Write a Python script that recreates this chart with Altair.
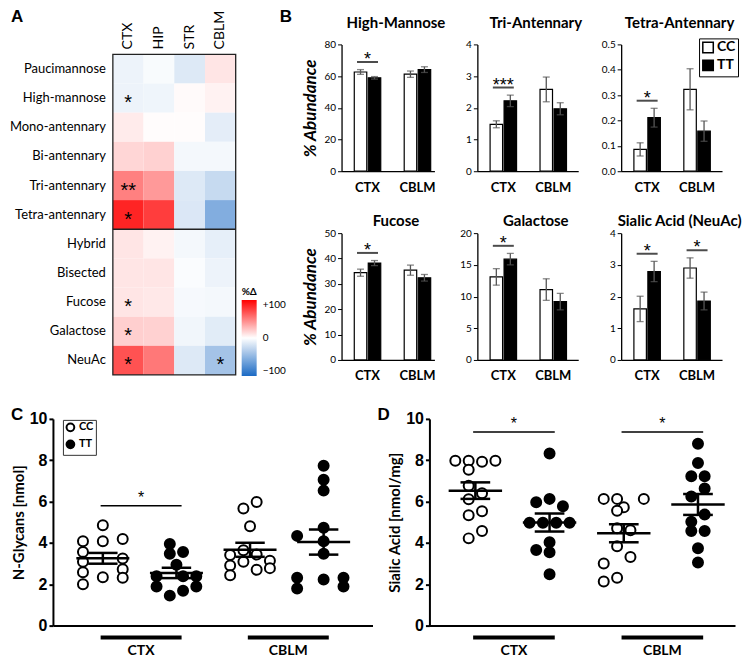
import altair as alt
import pandas as pd

FONT = "Lato"
NUM = "Liberation Sans"
BLUE = "#1b6ac4"
RED = "#ff0000"

# ---------------- Panel A : heat map (%change TT vs CC) ----------------
hm_rows = ["Paucimannose", "High-mannose", "Mono-antennary", "Bi-antennary",
           "Tri-antennary", "Tetra-antennary", "Hybrid", "Bisected",
           "Fucose", "Galactose", "NeuAc"]
hm_cols = ["CTX", "HIP", "STR", "CBLM"]
hm_ctx = [-8, -8, 8, 16, 50, 86, 10, 10, 10, 19, 68]
hm_hip = [-3, -7, 1, 18, 40, 76, 5, 10, 9, 18, 53]
hm_str = [-15, 2, 1, -5, -15, -16, -5, -2, -4, -6, -15]
hm_cblm = [10, 5, -12, -5, -25, -55, -11, -8, -5, -13, -40]
hm_star_ctx = ["", "*", "", "", "**", "*", "", "", "*", "*", "*"]
hm_star_cblm = ["", "", "", "", "", "", "", "", "", "", "*"]
hm_split = "Hybrid"

# ---------------- Panel B : % abundance bars ----------------
b_titles = ["High-Mannose", "Tri-Antennary", "Tetra-Antennary",
            "Fucose", "Galactose", "Sialic Acid (NeuAc)"]
b_regions = ["CTX", "CBLM"]
b_genos = ["CC", "TT"]
b_cc_mean = [[62.6, 61.2], [1.48, 2.58], [0.086, 0.323], [34.4, 35.4], [13.1, 11.1], [1.61, 2.90]]
b_cc_sem = [[1.5, 2.0], [0.11, 0.39], [0.026, 0.081], [1.4, 2.0], [1.3, 1.7], [0.40, 0.32]]
b_tt_mean = [[58.9, 64.1], [2.22, 1.97], [0.211, 0.158], [38.2, 32.4], [15.9, 9.2], [2.79, 1.86]]
b_tt_sem = [[0.8, 1.8], [0.18, 0.19], [0.037, 0.040], [1.0, 1.3], [0.9, 1.3], [0.32, 0.28]]
b_sig = [["*", ""], ["***", ""], ["*", ""], ["*", ""], ["*", ""], ["*", "*"]]
b_ymax = [80, 4, 0.5, 50, 20, 4]
b_ystep = [20, 1, 0.1, 10, 5, 1]
b_fmt = ["d", "d", ".1f", "d", "d", "d"]

# ---------------- Panel C : N-glycans [nmol] ----------------
ng_ctx_cc = [4.08, 3.56, 3.09, 2.58, 2.00, 4.85, 4.08, 2.34, 4.19, 3.25, 2.73, 2.31]
ng_ctx_cc_slot = [-3, -3, -3, -3, -3, 0, 0, 0, 3, 3, 3, 3]
ng_ctx_tt = [3.95, 3.48, 3.56, 2.94, 2.39, 2.39, 2.39, 1.89, 1.89, 1.69, 1.45]
ng_ctx_tt_slot = [-1, -1, 1, 0, -3, 1, 3, -3, 3, 1, -1]
ng_cblm_cc = [3.41, 2.91, 2.44, 5.67, 5.98, 4.81, 3.64, 3.44, 3.09, 2.70, 3.14, 2.78]
ng_cblm_cc_slot = [-3, -3, -3, -1, 1, 0, -1, 1, -1, 1, 3, 3]
ng_cblm_tt = [7.73, 7.06, 6.53, 4.73, 4.08, 3.48, 4.34, 2.31, 1.80, 2.23, 2.31, 1.89]
ng_cblm_tt_slot = [0, 0, 0, 0, 0, 0, -4, -4, -4, 0, 3, 3]
ng_sig = ["*", ""]
ng_sig_y = [5.8, None]

# ---------------- Panel D : sialic acid [nmol/mg] ----------------
sa_ctx_cc = [7.98, 7.98, 7.93, 7.98, 7.54, 6.76, 6.40, 6.11, 5.53, 5.34, 4.58, 4.22]
sa_ctx_cc_slot = [-3, -1, 1, 3, -1, -1, 1, -1, 1, -1, 1, -1]
sa_ctx_tt = [8.33, 6.13, 5.97, 5.77, 4.98, 4.98, 4.98, 4.98, 4.03, 3.66, 3.55, 2.48]
sa_ctx_tt_slot = [0, 0, -2, 2, -3, -1, 1, 3, 0, -2, 0, 0]
sa_cblm_cc = [6.13, 6.13, 6.13, 5.72, 5.56, 4.71, 4.61, 3.84, 3.32, 3.00, 2.32, 2.13]
sa_cblm_cc_slot = [-3, -1, 3, 0, -1, -1, 1, -1, 1, -3, -1, -3]
sa_cblm_tt = [8.80, 7.87, 7.22, 7.22, 6.63, 6.24, 5.37, 5.02, 4.58, 4.58, 3.74, 3.05]
sa_cblm_tt_slot = [0, 0, -1, 1, 1, -1, 1, -1, -1, 1, 0, 0]
sa_sig = ["*", "*"]
sa_sig_y = [9.37, 9.37]

panel_letters = ["A", "B", "C", "D"]
SLOT = 0.09


def letter(t, x, y):
    return alt.Chart(pd.DataFrame({"t": [t]})).mark_text(
        align="left", baseline="top", fontSize=17, fontWeight="bold", font=NUM, color="black"
    ).encode(text="t:N", x=alt.value(x), y=alt.value(y))


def frame(x0, x1, y0, y1):
    # invisible box that fixes the extent of a panel for the concat layout
    return alt.Chart(pd.DataFrame({"f": [0]})).mark_rect(opacity=0).encode(
        x=alt.value(x0), x2=alt.value(x1), y=alt.value(y0), y2=alt.value(y1))


# ---------------- A ----------------
def heat_panel():
    cols_vals = [hm_ctx, hm_hip, hm_str, hm_cblm]
    stars = {0: hm_star_ctx, 3: hm_star_cblm}
    recs = []
    for ci, vals in enumerate(cols_vals):
        for ri, v in enumerate(vals):
            recs.append({"ci": ci, "ri": ri, "pct": v,
                         "star": stars.get(ci, [""] * len(hm_rows))[ri]})
    df = pd.DataFrame(recs)
    xs = alt.Scale(domain=[-60 / 30.75, len(hm_cols)], nice=False, zero=False)
    ys = alt.Scale(domain=[-10 / 29.18, len(hm_rows)], nice=False, zero=False, reverse=True)
    base = alt.Chart(df).transform_calculate(
        ci1="datum.ci + 1", ri1="datum.ri + 1", cx="datum.ci + 0.5", ry="datum.ri + 0.5")
    cells = base.mark_rect().encode(
        x=alt.X("ci:Q", scale=xs, axis=None), x2="ci1:Q",
        y=alt.Y("ri:Q", scale=ys, axis=None), y2="ri1:Q",
        fill=alt.Fill("pct:Q", scale=alt.Scale(domain=[-100, 0, 100],
                                               range=[BLUE, "#ffffff", RED], interpolate="rgb"),
                      legend=alt.Legend(
                          orient="none", legendX=189, legendY=243, title="%Δ", titleFontSize=10,
                          titleFont=FONT, titleFontWeight="bold", titlePadding=3,
                          titleColor="black", gradientLength=76, gradientThickness=15,
                          values=[-100, 0, 100], direction="vertical",
                          labelExpr="datum.value > 0 ? '+' + datum.label : datum.label",
                          labelFontSize=10, labelFont=FONT, labelColor="black", labelOffset=6,
                          padding=0, gradientStrokeWidth=0)))
    starl = base.transform_filter("datum.star != ''").mark_text(
        fontSize=20, baseline="alphabetic", dy=11, font=NUM, color="black").encode(
        x=alt.X("cx:Q", scale=xs, axis=None), y=alt.Y("ry:Q", scale=ys, axis=None), text="star:N")
    fdf = pd.DataFrame({"x0": [0], "x1": [len(hm_cols)], "y0": [0], "y1": [len(hm_rows)],
                        "ys": [hm_rows.index(hm_split)]})
    box = alt.Chart(fdf).mark_rect(fillOpacity=0, stroke="#222", strokeWidth=1.3).encode(
        x=alt.X("x0:Q", scale=xs, axis=None), x2="x1:Q",
        y=alt.Y("y0:Q", scale=ys, axis=None), y2="y1:Q")
    split = alt.Chart(fdf).mark_rule(color="#222", strokeWidth=1.3).encode(
        x=alt.X("x0:Q", scale=xs, axis=None), x2="x1:Q",
        y=alt.Y("ys:Q", scale=ys, axis=None))
    rdf = pd.DataFrame({"name": hm_rows, "ri": list(range(len(hm_rows)))})
    rowlab = alt.Chart(rdf).transform_calculate(ry="datum.ri + 0.5").mark_text(
        align="right", baseline="middle", fontSize=13, font=FONT, color="black").encode(
        x=alt.value(53), y=alt.Y("ry:Q", scale=ys, axis=None), text="name:N")
    cdf = pd.DataFrame({"name": hm_cols, "ci": list(range(len(hm_cols)))})
    collab = alt.Chart(cdf).transform_calculate(cx="datum.ci + 0.5").mark_text(
        align="left", baseline="middle", angle=270, fontSize=14, font=FONT, color="black").encode(
        x=alt.X("cx:Q", scale=xs, axis=None), y=alt.value(5), text="name:N")
    return alt.layer(frame(-43, 241, -35, 335), cells, starl, box, split, rowlab, collab,
                     letter(panel_letters[0], -42, -35),
                     letter(panel_letters[1], 227, -35)).properties(width=183, height=331)


# ---------------- B ----------------
def bar_panel(k, width, row):
    recs = []
    for gi, reg in enumerate(b_regions):
        recs.append({"region": reg, "geno": "CC", "mean": b_cc_mean[k][gi], "sem": b_cc_sem[k][gi]})
        recs.append({"region": reg, "geno": "TT", "mean": b_tt_mean[k][gi], "sem": b_tt_sem[k][gi]})
    df = pd.DataFrame(recs)
    df["lo"] = df["mean"] - df["sem"]
    df["hi"] = df["mean"] + df["sem"]
    srec = []
    for gi, reg in enumerate(b_regions):
        if b_sig[k][gi]:
            top = df[df.region == reg]["hi"].max()
            srec.append({"region": reg, "level": top + 0.06 * b_ymax[k], "lab": b_sig[k][gi]})
    sdf = pd.DataFrame(srec)

    step, band, c0 = 50.0, 30.0, 26.0
    p = 1 - band / step
    po = (width / step - (2 - p)) / 2
    al = (c0 - band / 2) / (width - step * (2 - p))
    xs = alt.Scale(domain=b_regions, paddingInner=p, paddingOuter=po, align=al)
    xo = alt.Scale(domain=b_genos, paddingInner=0.107, paddingOuter=0.125)
    ys = alt.Scale(domain=[0, b_ymax[k]], nice=False, zero=True)
    nt = int(round(b_ymax[k] / b_ystep[k]))
    ticks = [round(i * b_ystep[k], 3) for i in range(nt + 1)]
    first = width < 100
    xa = alt.Axis(title=None, ticks=False, labelFontSize=13, labelFontWeight="bold",
                  labelFont=FONT, labelPadding=10, domainColor="black", domainWidth=1.3,
                  labelAngle=0, labelColor="black")
    ya = alt.Axis(values=ticks, format=b_fmt[k], labelFontSize=10, labelFont=FONT,
                  labelColor="black", tickSize=4, tickColor="black", domainColor="black",
                  domainWidth=1.3, grid=False, labelPadding=2,
                  title="% Abundance" if first else None,
                  titleFontSize=17, titleFontWeight="bold", titleFontStyle="italic",
                  titleFont=FONT, titlePadding=4, titleColor="black")
    X = alt.X("region:N", scale=xs, axis=xa, sort=b_regions)
    XO = alt.XOffset("geno:N", scale=xo, sort=b_genos)
    legend = None
    if k == 2:
        legend = alt.Legend(orient="none", legendX=78, legendY=-6, title=None,
                            symbolType="square", symbolSize=110, symbolStrokeColor="black",
                            symbolStrokeWidth=1.5, labelFontSize=14, labelFontWeight="bold",
                            labelFont=FONT, labelColor="black", strokeColor="black",
                            fillColor="white", padding=2, rowPadding=0, labelOffset=2,
                            symbolOpacity=1)
    base = alt.Chart(df)
    bars = base.mark_bar(stroke="black", strokeWidth=1.2).encode(
        x=X, xOffset=XO, y=alt.Y("mean:Q", scale=ys, axis=ya),
        fill=alt.Fill("geno:N", scale=alt.Scale(domain=b_genos, range=["white", "black"]),
                      legend=legend))
    err = base.mark_rule(color="#555555", strokeWidth=1.3).encode(
        x=X, xOffset=XO, y=alt.Y("lo:Q", scale=ys, axis=ya), y2="hi:Q")
    cap1 = base.mark_tick(color="#555555", thickness=1.3, size=7).encode(
        x=X, xOffset=XO, y=alt.Y("lo:Q", scale=ys, axis=ya))
    cap2 = base.mark_tick(color="#555555", thickness=1.3, size=7).encode(
        x=X, xOffset=XO, y=alt.Y("hi:Q", scale=ys, axis=ya))
    sline = alt.Chart(sdf).mark_tick(color="black", thickness=2, size=21).encode(
        x=X, y=alt.Y("level:Q", scale=ys, axis=ya))
    stext = alt.Chart(sdf).mark_text(fontSize=18, baseline="alphabetic", dy=3, font=NUM,
                                     color="black").encode(
        x=X, y=alt.Y("level:Q", scale=ys, axis=ya), text="lab:N")
    ttl = alt.Chart(pd.DataFrame({"t": [b_titles[k]]})).mark_text(
        fontSize=15, fontWeight="bold", font=FONT, baseline="middle", align="center",
        color="black").encode(
        text="t:N", x=alt.value(width / 2 + 8), y=alt.value(-21 if row == 0 else -12))
    fr = frame(-43 if first else 0, width, -35 if row == 0 else -21, 154)
    return alt.layer(fr, bars, err, cap1, cap2, sline, stext, ttl).properties(
        width=width, height=127)


# ---------------- C / D ----------------
def scatter_panel(groups, ylabel, xdom, sigs, sig_ys, with_legend, plabel, width, height, tpad):
    recs = []
    for gi, (reg, geno, vals, slots) in enumerate(groups):
        for v, s in zip(vals, slots):
            recs.append({"gi": gi, "region": reg, "geno": geno, "val": v, "slot": s})
    df = pd.DataFrame(recs)
    regs = []
    for ri, reg in enumerate(b_regions):
        idx = [gi for gi, g in enumerate(groups) if g[0] == reg]
        regs.append({"region": reg, "a": min(idx), "b": max(idx),
                     "lab": sigs[ri], "sy": sig_ys[ri]})
    rdf = pd.DataFrame(regs)
    xs = alt.Scale(domain=xdom, nice=False, zero=False)
    ys = alt.Scale(domain=[0, 10], nice=False)
    xa = alt.Axis(title=None, labels=False, ticks=False, domainColor="black", domainWidth=2,
                  grid=False)
    ya = alt.Axis(values=[0, 2, 4, 6, 8, 10], labelFont=NUM, labelFontSize=16,
                  labelFontWeight="bold", labelColor="black", tickSize=4, tickWidth=2,
                  tickColor="black", domainColor="black", domainWidth=2, grid=False,
                  labelPadding=2, title=ylabel, titleFont=FONT, titleFontSize=15,
                  titleFontWeight="bold", titleColor="black", titlePadding=tpad)
    legend = None
    if with_legend:
        legend = alt.Legend(orient="none", legendX=10, legendY=1, title=None,
                            symbolType="circle", symbolSize=60, symbolStrokeColor="black",
                            symbolStrokeWidth=2, labelFontSize=11, labelFontWeight="bold",
                            labelFont=FONT, labelColor="black", strokeColor="#333",
                            fillColor="white", padding=2, rowPadding=0, labelOffset=3,
                            symbolOpacity=1)
    pts = alt.Chart(df).transform_calculate(xj="datum.gi + datum.slot * %f" % SLOT).mark_point(
        shape="circle", size=100, filled=True, stroke="black", strokeWidth=2, opacity=1).encode(
        x=alt.X("xj:Q", scale=xs, axis=xa), y=alt.Y("val:Q", scale=ys, axis=ya),
        fill=alt.Fill("geno:N", scale=alt.Scale(domain=b_genos, range=["white", "black"]),
                      legend=legend))
    stats = alt.Chart(df).transform_aggregate(
        m="mean(val)", se="stderr(val)", groupby=["gi"]).transform_calculate(
        lo="datum.m - datum.se", hi="datum.m + datum.se",
        ml="datum.gi - 0.36", mr="datum.gi + 0.36", cl="datum.gi - 0.2", cr="datum.gi + 0.2")
    meanl = stats.mark_rule(color="black", strokeWidth=2.5).encode(
        x=alt.X("ml:Q", scale=xs, axis=xa), x2="mr:Q", y=alt.Y("m:Q", scale=ys, axis=ya))
    vline = stats.mark_rule(color="black", strokeWidth=2.5).encode(
        x=alt.X("gi:Q", scale=xs, axis=xa), y=alt.Y("lo:Q", scale=ys, axis=ya), y2="hi:Q")
    capl = stats.mark_rule(color="black", strokeWidth=2.5).encode(
        x=alt.X("cl:Q", scale=xs, axis=xa), x2="cr:Q", y=alt.Y("lo:Q", scale=ys, axis=ya))
    caph = stats.mark_rule(color="black", strokeWidth=2.5).encode(
        x=alt.X("cl:Q", scale=xs, axis=xa), x2="cr:Q", y=alt.Y("hi:Q", scale=ys, axis=ya))
    rb = alt.Chart(rdf).transform_calculate(
        ra="datum.a - 0.03", rbb="datum.b + 0.07", mid="(datum.a + datum.b) / 2 + 0.02")
    sigb = rb.transform_filter("datum.lab != ''")
    sline = sigb.mark_rule(color="black", strokeWidth=1.5).encode(
        x=alt.X("ra:Q", scale=xs, axis=xa), x2="rbb:Q", y=alt.Y("sy:Q", scale=ys, axis=ya))
    stext = sigb.mark_text(fontSize=16, baseline="alphabetic", dy=-3, font=NUM,
                           color="black").encode(
        x=alt.X("mid:Q", scale=xs, axis=xa), y=alt.Y("sy:Q", scale=ys, axis=ya), text="lab:N")
    gbar = rb.mark_rule(color="black", strokeWidth=4).encode(
        x=alt.X("ra:Q", scale=xs, axis=xa), x2="rbb:Q", y=alt.value(height + 12))
    glab = rb.mark_text(fontSize=14, fontWeight="bold", font=FONT, baseline="middle",
                        color="black").encode(
        x=alt.X("mid:Q", scale=xs, axis=xa), y=alt.value(height + 25), text="region:N")
    return alt.layer(frame(-45, width, -12, height + 33), pts, meanl, vline, capl, caph,
                     sline, stext, gbar, glab,
                     letter(plabel, -42 if plabel == "C" else -52, -12)).properties(
        width=width, height=height)


R = dict(fill="independent")
A = heat_panel()
B1 = [bar_panel(0, 93, 0), bar_panel(1, 101, 0), bar_panel(2, 101, 0)]
B2 = [bar_panel(3, 93, 1), bar_panel(4, 101, 1), bar_panel(5, 101, 1)]
rowB1 = alt.hconcat(*B1, spacing=43, bounds="flush").resolve_scale(**R)
rowB2 = alt.hconcat(*B2, spacing=43, bounds="flush").resolve_scale(**R)
Bp = alt.vconcat(rowB1, rowB2, spacing=14).resolve_scale(**R)
top = alt.hconcat(A, Bp, spacing=5).resolve_scale(**R)

Cg = [("CTX", "CC", ng_ctx_cc, ng_ctx_cc_slot), ("CTX", "TT", ng_ctx_tt, ng_ctx_tt_slot),
      ("CBLM", "CC", ng_cblm_cc, ng_cblm_cc_slot), ("CBLM", "TT", ng_cblm_tt, ng_cblm_tt_slot)]
Dg = [("CTX", "CC", sa_ctx_cc, sa_ctx_cc_slot), ("CTX", "TT", sa_ctx_tt, sa_ctx_tt_slot),
      ("CBLM", "CC", sa_cblm_cc, sa_cblm_cc_slot), ("CBLM", "TT", sa_cblm_tt, sa_cblm_tt_slot)]
Cc = scatter_panel(Cg, "N-Glycans [nmol]", [-0.678, 3.664], ng_sig, ng_sig_y, True, "C", 320, 207, 3)
Dc = scatter_panel(Dg, "Sialic Acid [nmol/mg]", [-0.619, 3.499], sa_sig, sa_sig_y, False, "D", 306, 207, 3)
bottom = alt.hconcat(Cc, Dc, spacing=57, bounds="flush").resolve_scale(**R)

chart = alt.vconcat(top, bottom, spacing=19).resolve_scale(**R).properties(
    padding=0).configure(font=FONT).configure_view(stroke=None).configure_text(color="black")

chart.save("out.html", embed_options={"renderer": "svg", "actions": False})
